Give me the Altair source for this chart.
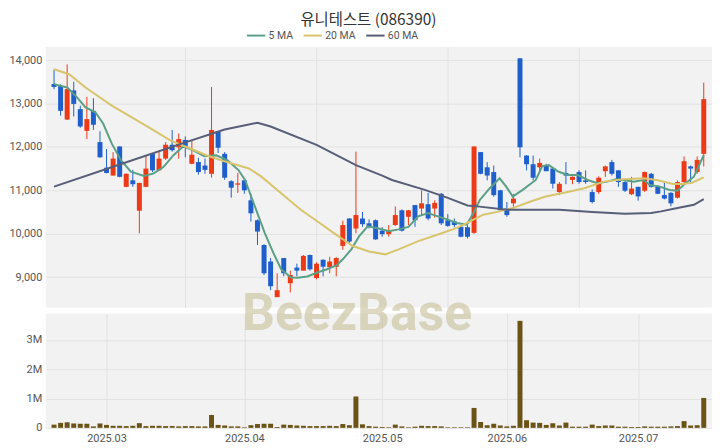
import altair as alt
import pandas as pd

# ---- candle data (trading-day index 0..99) ----
opens = [13450, 13400, 12630, 13300, 12870, 12370, 12830, 12110, 11520, 11340,
         12010, 11080, 11230, 10530, 11080, 11840, 11460, 11730, 12050, 11990,
         12160, 11610, 11650, 11570, 11380, 12360, 11840, 11210, 11130, 11230,
         10770, 10310, 9740, 9360, 8540, 9440, 8860, 9220, 9150, 9510,
         8980, 9400, 9230, 9240, 9720, 10350, 10120, 10350, 10240, 10310,
         10070, 9990, 10200, 10540, 10390, 10660, 10580, 10680, 10580, 10920,
         10310, 10280, 10160, 10150, 10020, 11880, 11530, 11420, 11000, 10580,
         10700, 14040, 11800, 11600, 11530, 11570, 11500, 10960, 11400, 11240,
         11420, 11230, 10960, 10960, 11440, 11650, 11460, 11190, 10910, 11080,
         10990, 11380, 11090, 10890, 10940, 10830, 11190, 11550, 11420, 11840]
highs = [13780, 13440, 13900, 13500, 12950, 13150, 13120, 12360, 11950, 11880,
         12010, 11390, 11470, 11170, 11800, 11850, 11920, 12110, 12390, 12310,
         12240, 12160, 11750, 11730, 13380, 12370, 11880, 11230, 11400, 11240,
         10920, 10330, 9760, 9440, 9090, 9440, 9150, 9310, 9510, 9520,
         9340, 9410, 9470, 9460, 10300, 10360, 11890, 10500, 10330, 10330,
         10150, 10200, 10630, 10560, 10550, 10660, 11000, 10940, 10770, 10940,
         10450, 10350, 10180, 10200, 12010, 11880, 11650, 11570, 11010, 10730,
         10920, 14040, 11810, 11800, 11730, 11610, 11530, 11190, 11650, 11320,
         11460, 11460, 11020, 11320, 11570, 11700, 11460, 11230, 11310, 11080,
         11430, 11400, 11120, 11190, 10960, 11230, 11780, 11570, 11780, 13480]
lows = [13330, 12720, 12620, 12700, 12440, 12180, 12390, 11750, 11390, 11340,
        11300, 11070, 11080, 10010, 11070, 11420, 11450, 11700, 11890, 11730,
        11760, 11600, 11360, 11380, 11290, 11860, 11240, 10830, 10940, 10920,
        10280, 9740, 9050, 8700, 8540, 9020, 8650, 9020, 9150, 9150,
        8950, 9020, 9090, 9020, 9630, 9780, 10010, 10160, 10120, 9860,
        9930, 9930, 10180, 10050, 10200, 10160, 10430, 10310, 10370, 10200,
        10160, 10150, 9920, 9890, 10000, 11370, 11230, 10850, 10530, 10390,
        10620, 11760, 11460, 11230, 11440, 11440, 11040, 10890, 11140, 11140,
        11150, 11150, 10700, 10920, 11310, 11340, 11080, 10960, 10890, 10760,
        10960, 11060, 10910, 10790, 10630, 10810, 11170, 11190, 11380, 11550]
closes = [13380, 12830, 13330, 12990, 12470, 12640, 12510, 11760, 11400, 11730,
          11310, 11380, 11140, 11170, 11500, 11460, 11730, 12050, 11920, 12180,
          11980, 11820, 11420, 11470, 12390, 11980, 11290, 11060, 11160, 11000,
          10470, 10050, 9090, 8790, 8700, 9090, 9050, 9150, 9490, 9180,
          9310, 9240, 9360, 9440, 10200, 9820, 10430, 10220, 10160, 9870,
          9990, 10070, 10430, 10070, 10540, 10310, 10700, 10350, 10710, 10240,
          10180, 10200, 9930, 9930, 12010, 11380, 11340, 10890, 10540, 10430,
          10810, 11990, 11600, 11290, 11630, 11440, 11150, 11150, 11340, 11310,
          11190, 11190, 10730, 11290, 11550, 11380, 11190, 10990, 11040, 10860,
          11420, 11080, 10920, 10810, 10700, 11190, 11670, 11500, 11700, 13100]
volumes = [110000, 170000, 190000, 150000, 140000, 140000, 50000, 150000, 100000, 70000,
           70000, 60000, 70000, 160000, 60000, 70000, 70000, 60000, 60000, 50000,
           60000, 60000, 50000, 50000, 440000, 100000, 80000, 50000, 50000, 20000,
           90000, 130000, 140000, 140000, 30000, 110000, 100000, 80000, 70000, 60000,
           60000, 60000, 70000, 60000, 130000, 90000, 1070000, 120000, 60000, 40000,
           30000, 20000, 110000, 50000, 20000, 40000, 70000, 60000, 60000, 50000,
           20000, 20000, 20000, 20000, 680000, 200000, 90000, 140000, 80000, 50000,
           70000, 3650000, 260000, 180000, 170000, 100000, 160000, 80000, 180000, 40000,
           40000, 40000, 110000, 60000, 80000, 80000, 40000, 40000, 30000, 30000,
           50000, 40000, 40000, 40000, 50000, 60000, 230000, 80000, 90000, 1020000]

# ---- moving averages (index, value) ----
ma5_i = [0, 2, 3.5, 4.8, 6.3, 7.5, 8.8, 10.2, 11.7, 13.7, 15.2, 16.7, 18.2, 19.7, 21.2,
         22.9, 24.7, 26.4, 28.1, 29.1, 30.6, 32.1, 33.4, 34.6, 36.1, 37.1, 38.6, 40.1,
         41.6, 43.1, 44.0, 45.3, 46.5, 47.8, 49.5, 51.0, 52.5, 54.0, 55.5, 57.0, 58.5,
         60.0, 61.4, 62.9, 63.9, 64.9, 66.4, 67.9, 68.9, 69.9, 71.4, 73.4, 74.4, 75.4,
         76.9, 78.3, 79.8, 81.3, 82.8, 84.3, 85.6, 86.8, 88.3, 89.8, 90.8, 92.3, 93.8,
         95.0, 96.2, 97.5, 99]
ma5_v = [13445, 13368, 13140, 12911, 12797, 12532, 12075, 11694, 11427, 11329, 11390,
         11541, 11808, 12014, 11922, 11785, 11808, 11694, 11466, 11238, 10629, 10020,
         9564, 9183, 8993, 8985, 9016, 9107, 9183, 9274, 9411, 9640, 9944, 10172, 10120,
         10058, 10100, 10157, 10400, 10477, 10400, 10324, 10248, 10210, 10477, 10781,
         11048, 11276, 11085, 10857, 11009, 11238, 11557, 11580, 11427, 11352, 11352,
         11238, 11162, 11200, 11253, 11238, 11200, 11238, 11124, 11085, 11009, 10990,
         11162, 11314, 11808]
ma20_i = [0, 2.3, 4.8, 8.8, 12.7, 15.2, 17.7, 20.2, 23.2, 25.7, 29.7, 31.6, 34.6, 37.6,
          40.1, 42.6, 45.5, 48.0, 50.5, 52.5, 55.5, 58.5, 61.4, 63.4, 65.4, 67.9, 69.9,
          72.4, 74.9, 77.9, 80.8, 83.8, 86.8, 89.8, 91.8, 94.3, 95.8, 97.2, 99]
ma20_v = [13788, 13674, 13368, 12950, 12607, 12379, 12151, 11998, 11808, 11680, 11504,
          11314, 10933, 10553, 10286, 10020, 9716, 9590, 9525, 9640, 9830, 9982, 10135,
          10286, 10439, 10515, 10591, 10730, 10857, 10948, 11048, 11200, 11253, 11276,
          11238, 11146, 11146, 11176, 11298]
ma60_i = [0, 10, 20, 26, 31, 33, 40, 46, 50, 51.5, 56.5, 60, 63, 64.5, 69, 73, 77, 82,
          87, 91, 92.5, 95, 97.5, 99]
ma60_v = [11085, 11595, 12105, 12400, 12555, 12470, 12045, 11580, 11340, 11238, 11009,
          10826, 10652, 10630, 10553, 10553, 10553, 10500, 10461, 10477, 10515, 10591,
          10667, 10797]

ma_names = ["5 MA", "20 MA", "60 MA"]
ma_colors = ["#5b9f86", "#d8c46c", "#565e78"]

tick_idx = [8, 29, 50, 69, 89]
tick_labels = ["2025.03", "2025.04", "2025.05", "2025.06", "2025.07"]
top_grid_idx = [20, 40, 60, 80]
price_ticks = [9000, 10000, 11000, 12000, 13000, 14000]
vol_ticks = [0, 1000000, 2000000, 3000000]

UP = "#ec3a17"
DOWN = "#1f5fcc"
VOLC = "#6b5316"
FONT = "Roboto"

df = pd.DataFrame({"i": list(range(len(closes))), "open": opens, "high": highs,
                   "low": lows, "close": closes, "volume": volumes})
ma_df = pd.concat([
    pd.DataFrame({"i": ma5_i, "v": ma5_v, "s": ma_names[0]}),
    pd.DataFrame({"i": ma20_i, "v": ma20_v, "s": ma_names[1]}),
    pd.DataFrame({"i": ma60_i, "v": ma60_v, "s": ma_names[2]}),
])

label_expr = "''"
for k, lab in zip(reversed(tick_idx), reversed(tick_labels)):
    label_expr = f"datum.value == {k} ? '{lab}' : ({label_expr})"

xscale = alt.Scale(domain=[-0.5, 99.5], nice=False, zero=False)
W = 670
TOP_H = 262
VOL_H = 115

candle_color = alt.condition("datum.close >= datum.open", alt.value(UP), alt.value(DOWN))

x_top = alt.X("i:Q", scale=xscale, title=None,
              axis=alt.Axis(values=top_grid_idx, labels=False, ticks=False, domain=False,
                            grid=True))
y_price = alt.Y("low:Q", scale=alt.Scale(domain=[8300, 14300], nice=False, zero=False),
                title=None,
                axis=alt.Axis(values=price_ticks, format=",d", ticks=False, domain=False,
                              labelPadding=4, minExtent=37, maxExtent=37))

base = alt.Chart(df)
wicks = base.mark_rule(strokeWidth=1).encode(x=x_top, y=y_price, y2="high:Q",
                                             color=candle_color)
bodies = base.mark_bar(size=5).encode(x="i:Q", y="open:Q", y2="close:Q",
                                      color=candle_color)
lines = alt.Chart(ma_df).mark_line(strokeWidth=2).encode(
    x="i:Q", y="v:Q",
    color=alt.Color("s:N", scale=alt.Scale(domain=ma_names, range=ma_colors),
                    legend=alt.Legend(orient="none", legendX=201, legendY=-22,
                                      direction="horizontal", title=None,
                                      symbolType="stroke", symbolStrokeWidth=2,
                                      symbolSize=340, labelFontSize=10.5,
                                      labelColor="#555", labelFont=FONT,
                                      labelOffset=2, columnPadding=6)),
    detail="s:N",
)
price = alt.layer(wicks, bodies, lines).properties(width=W, height=TOP_H)

x_vol = alt.X("i:Q", scale=xscale, title=None,
              axis=alt.Axis(values=tick_idx, labelExpr=label_expr, ticks=False,
                            domain=False, grid=True, labelPadding=5, labelFlush=False))
y_vol = alt.Y("volume:Q", scale=alt.Scale(domain=[0, 3900000], nice=False), title=None,
              axis=alt.Axis(values=vol_ticks,
                            labelExpr="datum.value == 0 ? '0' : format(datum.value / 1000000, 'd') + 'M'",
                            ticks=False, domain=False, labelPadding=4,
                            minExtent=37, maxExtent=37))
vol_bars = alt.Chart(df).mark_bar(size=5, color=VOLC).encode(x=x_vol, y=y_vol)
watermark = alt.Chart(alt.Data(values=[{}])).mark_text(
    text="BeezBase", font=FONT, fontWeight="bold", fontSize=52, color="#c8bf98",
    opacity=0.6, baseline="alphabetic", align="center").encode(
    x=alt.value(313), y=alt.value(17))
volume = alt.layer(vol_bars, watermark).properties(width=W, height=VOL_H)

chart = alt.vconcat(price, volume, spacing=6, bounds="flush").properties(
    title=alt.Title("유니테스트 (086390)", font="Noto Sans CJK KR", fontSize=15.5,
                    fontWeight="normal", color="#333", anchor="middle", offset=-3, dx=8)
).configure(
    padding={"left": 0, "top": 3, "right": 0, "bottom": 0},
    background="white",
).configure_view(
    fill="#f2f2f2", stroke=None
).configure_axis(
    gridColor="#e2e2e2", gridWidth=1, labelFont=FONT, labelFontSize=11,
    labelColor="#555"
)

chart.save("out.html", embed_options={"renderer": "svg", "actions": False})
